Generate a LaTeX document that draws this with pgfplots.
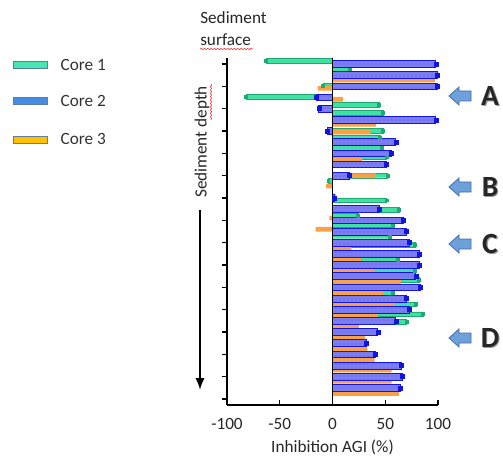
\documentclass[border=0pt]{standalone}
\usepackage{pgfplots}
\usepackage{pgfplotstable}
\pgfplotsset{compat=1.18}
\usepackage{fontspec}
\setmainfont{Carlito}
\usetikzlibrary{patterns,arrows.meta,decorations.pathmorphing}
\definecolor{cGreen}{RGB}{64,226,162}
\definecolor{cGreenD}{RGB}{30,170,115}
\definecolor{cOrange}{RGB}{250,160,70}
\definecolor{cBlue}{RGB}{125,125,246}
\definecolor{cBlueD}{RGB}{20,20,225}
\definecolor{cDots}{RGB}{85,85,215}
\definecolor{lgGreen}{RGB}{70,230,180}
\definecolor{lgBlue}{RGB}{70,140,230}
\definecolor{lgYellow}{RGB}{255,192,0}
\definecolor{lgBorder}{RGB}{95,125,160}
\definecolor{arrFill}{RGB}{110,160,220}
\definecolor{arrDraw}{RGB}{65,110,170}

% depth row k (0 = top), value v (inhibition %)
\pgfplotstableread{
k v
-0.27 -63
0.47 16
1.95 -9
2.93 -82
3.67 44
4.36 48
5.97 48
6.56 45
7.52 47
8.35 51
9.97 52
10.47 -4
12.2 51
13.07 63
13.55 24
14.44 57
15.43 54
16.18 78
17.52 62
18.5 78
19.3 82
20.5 57
21.5 79
22.4 86
23.1 70
}\coreone

\pgfplotstableread{
k v
0 98
1 99
2 99
3 -15
4 -13
5 98
6 -5
7 60
8 56
9 51
10 16
12 2
13 44
14 67
15 70
16 73
17 82
18 82
19 79
20 83
21 70
22 73
23 60
24 43
25 32
26 41
27 65
28 66
29 64
}\coretwo

\pgfplotstableread{
k v
1.43 97
2.18 -14
3.16 10
5.4 41
6.08 36
8.6 28
10.0 41
10.92 -6
11.82 3
13.8 -3
14.8 -16
16.5 18
17.5 27
18.5 40
19.5 65
20.5 48
21.5 59
22.5 43
23.55 25
24.44 31
25.5 33
26.5 40
27.4 56
28.4 56
29.5 63
}\corethree

\begin{document}
\begin{tikzpicture}
\useasboundingbox (0,0) rectangle (377.25pt,-342pt);
\begin{axis}[
  at={(170.25pt,-303.75pt)}, anchor=south west,
  scale only axis, width=158.25pt, height=260.25pt,
  xmin=-100, xmax=100, ymin=-30.53, ymax=0.54,
  axis x line*=bottom, axis y line*=left,
  axis line style={line width=1.1pt, black},
  xtick={-100,-50,0,50,100},
  ytick={-30,-28,...,0}, yticklabels={},
  xtick align=inside, ytick align=outside,
  major tick length=4pt,
  every tick/.style={black, line width=1.1pt},
  /pgf/number format/assume math mode=true,
  xticklabel style={font=\fontsize{12.9}{15}\selectfont, text=black!85, anchor=center, yshift=-14pt},
  xlabel={Inhibition AGI (\%)},
  xlabel style={font=\fontsize{12.9}{15}\selectfont, text=black!85, at={(axis description cs:0.5,0)}, anchor=center, yshift=-31.5pt},
  clip=false,
]
\addplot[xbar, bar width=0.42, bar shift=0pt, fill=cGreen, draw=cGreenD, line width=0.3pt]
  table[x=v, y expr=-\thisrow{k}] {\coreone};
\addplot[only marks, mark=square*, mark size=1.1pt, mark options={fill=cGreenD, draw=cGreenD}]
  table[x=v, y expr=-\thisrow{k}] {\coreone};
\addplot[xbar, bar width=0.42, bar shift=0pt, fill=cOrange, draw=none]
  table[x=v, y expr=-\thisrow{k}] {\corethree};
\addplot[xbar, bar width=0.6, bar shift=0pt, fill=cBlue, draw=cBlueD, line width=0.6pt]
  table[x=v, y expr=-\thisrow{k}] {\coretwo};
\addplot[xbar, bar width=0.6, bar shift=0pt, draw=none, pattern=dots, pattern color=cDots]
  table[x=v, y expr=-\thisrow{k}] {\coretwo};
\addplot[only marks, mark=square*, mark size=1.5pt, mark options={fill=cBlueD, draw=cBlueD}]
  table[x=v, y expr=-\thisrow{k}] {\coretwo};
\draw[line width=1.2pt, black] (axis cs:0,0.54) -- (axis cs:0,-30.53);
\end{axis}

\begin{scope}[x=0.75pt, y=-0.75pt, font=\fontsize{12.9}{15}\selectfont]
  % legend
  \draw[lgBorder, line width=0.6pt, fill=lgGreen] (13,61) rectangle (47,68);
  \node[anchor=west, text=black!80] at (56,65) {Core 1};
  \draw[lgBorder, line width=0.6pt, fill=lgBlue] (13,97) rectangle (47,104);
  \node[anchor=west, text=black!80] at (56,101) {Core 2};
  \draw[lgBorder, line width=0.6pt, fill=lgYellow] (13,136) rectangle (47,143);
  \node[anchor=west, text=black!80] at (56,139) {Core 3};
  % sediment labels
  \node[anchor=west, text=black!85, inner sep=0pt] at (200,18) {Sediment};
  \node[anchor=west, text=black!85, inner sep=0pt] at (200,40) {surface};
  \draw[red!85, line width=0.4pt, decorate, decoration={snake, amplitude=0.5pt, segment length=2.5pt}] (200,49) -- (253,49);
  \node[rotate=90, text=black!85, inner sep=0pt] at (202,142) {Sediment depth};
  \draw[red!85, line width=0.4pt, decorate, decoration={snake, amplitude=0.5pt, segment length=2.5pt}] (211,84) -- (211,120);
  \draw[line width=1.6pt, -{Latex[length=9pt,width=7pt]}] (200,210) -- (200,390);
  % block arrows and letters
  \foreach \yy/\lt in {96/A,187/B,244/C,338/D}{
    \draw[arrDraw, line width=0.6pt, fill=arrFill]
      (449,\yy) -- (459,\yy-9) -- (459,\yy-5) -- (471,\yy-5) -- (471,\yy+5) -- (459,\yy+5) -- (459,\yy+9) -- cycle;
    \node[text=black!40, font=\fontsize{22}{24}\selectfont\bfseries] at (491.2,\yy+1.2) {\lt};
    \node[text=black!85, font=\fontsize{22}{24}\selectfont\bfseries] at (490,\yy) {\lt};
  }
\end{scope}
\end{tikzpicture}
\end{document}
